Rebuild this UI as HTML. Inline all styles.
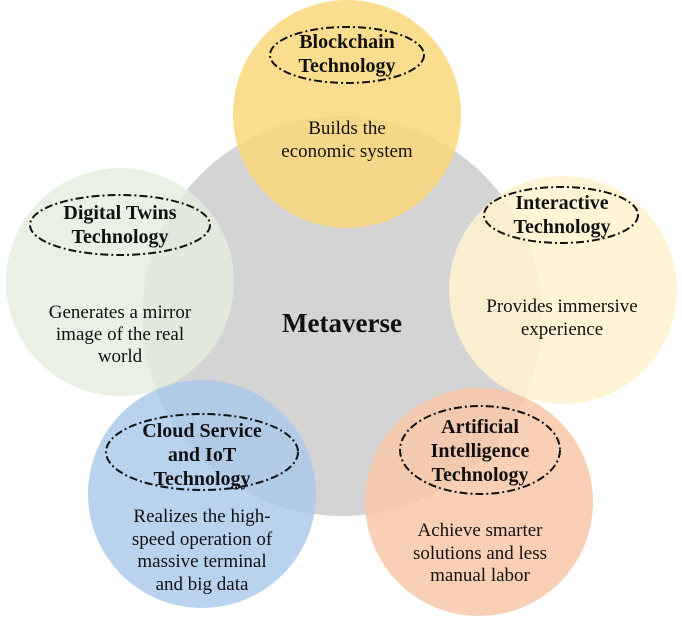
<!DOCTYPE html>
<html><head><style>body{margin:0;background:#fff}svg{display:block}text{font-family:"Liberation Serif",serif;font-size:19px;fill:#111}.b{font-weight:bold;font-size:20px}</style></head><body>
<svg width="682" height="626" viewBox="0 0 682 626">
<circle cx="342" cy="316" r="200" fill="#d4d4d4"/>
<circle cx="347" cy="114" r="114" fill="#f9d77a" fill-opacity="0.85"/>
<circle cx="120" cy="282" r="114" fill="#e4eddf" fill-opacity="0.8"/>
<circle cx="563" cy="290" r="114" fill="#fff3cf" fill-opacity="0.85"/>
<circle cx="202" cy="494" r="114" fill="#a8c8ea" fill-opacity="0.8"/>
<circle cx="479" cy="502" r="114" fill="#f8c8a8" fill-opacity="0.85"/>
<g fill="none" stroke="#111" stroke-width="2" stroke-dasharray="8,3,2,3">
<ellipse cx="347" cy="55" rx="77" ry="28"/>
<ellipse cx="120" cy="225" rx="90" ry="30"/>
<ellipse cx="561" cy="215" rx="77" ry="28"/>
<ellipse cx="202" cy="452" rx="96" ry="38"/>
<ellipse cx="480" cy="450" rx="80" ry="44"/>
</g>
<g text-anchor="middle">
<text class="b" x="347" y="48">Blockchain</text><text class="b" x="347" y="72">Technology</text>
<text x="347" y="134">Builds the</text><text x="347" y="157">economic system</text>
<text class="b" x="120" y="219">Digital Twins</text><text class="b" x="120" y="243">Technology</text>
<text x="120" y="318">Generates a mirror</text><text x="120" y="340">image of the real</text><text x="120" y="362">world</text>
<text class="b" x="562" y="209">Interactive</text><text class="b" x="562" y="233">Technology</text>
<text x="562" y="312">Provides immersive</text><text x="562" y="335">experience</text>
<text class="b" x="342" y="332" style="font-size:27px">Metaverse</text>
<text class="b" x="202" y="437">Cloud Service</text><text class="b" x="202" y="461">and IoT</text><text class="b" x="202" y="485">Technology</text>
<text x="202" y="522">Realizes the high-</text><text x="202" y="545">speed operation of</text><text x="202" y="567">massive terminal</text><text x="202" y="590">and big data</text>
<text class="b" x="480" y="433">Artificial</text><text class="b" x="480" y="457">Intelligence</text><text class="b" x="480" y="481">Technology</text>
<text x="480" y="536">Achieve smarter</text><text x="480" y="559">solutions and less</text><text x="480" y="581">manual labor</text>
</g>
</svg></body></html>
